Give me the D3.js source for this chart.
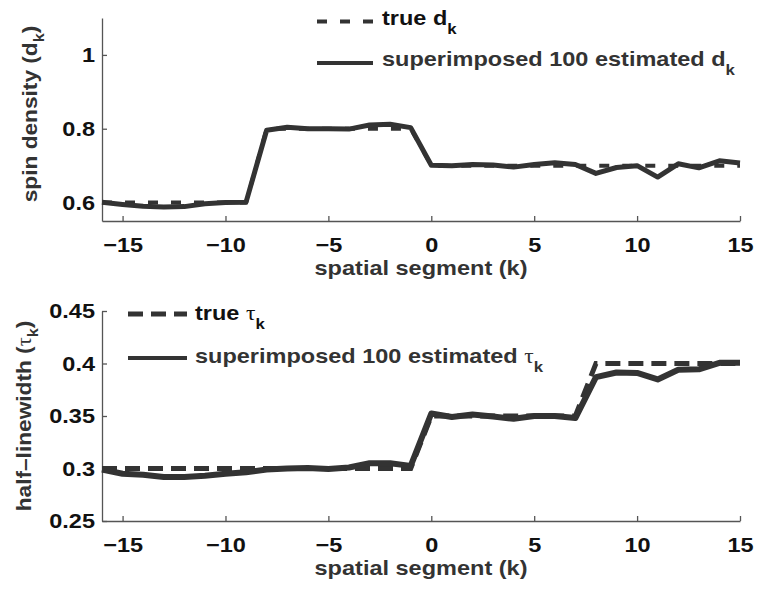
<!DOCTYPE html>
<html><head><meta charset="utf-8">
<script src="https://cdn.jsdelivr.net/npm/d3@7"></script>
<style>body{margin:0;background:#fff}</style></head>
<body><svg id="c" width="761" height="590"></svg>
<script>
// ---------- data ----------
const kValues = [-16,-15,-14,-13,-12,-11,-10,-9,-8,-7,-6,-5,-4,-3,-2,-1,0,1,2,3,4,5,6,7,8,9,10,11,12,13,14,15];
const xTickValues = [-15,-10,-5,0,5,10,15];
const xTickLabels = ["\u221215","\u221210","\u22125","0","5","10","15"];

const dTrue = [0.6,0.6,0.6,0.6,0.6,0.6,0.6,0.6, 0.8,0.8,0.8,0.8,0.8,0.8,0.8,0.8,
               0.7,0.7,0.7,0.7,0.7,0.7,0.7,0.7,0.7,0.7,0.7,0.7,0.7,0.7,0.7,0.7];
const dEst  = [0.601,0.595,0.590,0.588,0.589,0.597,0.600,0.601,
               0.796,0.804,0.800,0.800,0.799,0.810,0.812,0.803,
               0.701,0.700,0.703,0.702,0.696,0.703,0.708,0.703,
               0.679,0.695,0.700,0.669,0.705,0.694,0.713,0.707];
const dTickValues = [0.6,0.8,1];
const dTickLabels = ["0.6","0.8","1"];

const tauTrue = [0.3,0.3,0.3,0.3,0.3,0.3,0.3,0.3,0.3,0.3,0.3,0.3,0.3,0.3,0.3,0.3,
                 0.35,0.35,0.35,0.35,0.35,0.35,0.35,0.35,
                 0.4,0.4,0.4,0.4,0.4,0.4,0.4,0.4];
const tauEst  = [0.299,0.295,0.294,0.292,0.292,0.293,0.295,0.2965,
                 0.299,0.300,0.3005,0.2995,0.301,0.305,0.305,0.3025,
                 0.3524,0.349,0.3514,0.3495,0.3473,0.350,0.350,0.348,
                 0.387,0.3914,0.391,0.3848,0.394,0.3945,0.4007,0.4007];
const tauTickValues = [0.25,0.3,0.35,0.4,0.45];
const tauTickLabels = ["0.25","0.3","0.35","0.4","0.45"];

// ---------- drawing ----------
const svg = d3.select("#c");
const FONT = "'Liberation Sans', Arial, Helvetica, sans-serif";
const SX = 1.12;
const x = d3.scaleLinear().domain([-16, 15]).range([102, 740]);

function addParts(t, parts, subSize) {
  parts.forEach(p => {
    const ts = t.append("tspan").text(p.t);
    if (p.sub) ts.attr("font-size", subSize).attr("dy", p.dy);
    if (p.back) ts.attr("dy", p.back);
    if (p.greek) ts.attr("font-family", "'Liberation Serif', 'DejaVu Serif', serif").attr("font-weight", "normal");
  });
}

function drawPanel(o) {
  const g = svg.append("g");
  const y = d3.scaleLinear().domain(o.yDomain).range([o.yBottom, o.yTop]);

  const xa = g.append("g").attr("transform", `translate(0,${o.yBottom})`)
    .call(d3.axisBottom(x).tickValues(xTickValues)
      .tickFormat((d, i) => xTickLabels[i]).tickSizeInner(-5).tickSizeOuter(0).tickPadding(16));
  const ya = g.append("g").attr("transform", `translate(102,0)`)
    .call(d3.axisLeft(y).tickValues(o.tickValues)
      .tickFormat((d, i) => o.tickLabels[i]).tickSizeInner(-5).tickSizeOuter(0).tickPadding(7));
  [xa, ya].forEach(a => {
    a.select(".domain").attr("stroke", "#555").attr("stroke-width", 1.3);
    a.selectAll(".tick line").attr("stroke", "#555").attr("stroke-width", 1.3);
    a.selectAll(".tick text").attr("font-family", FONT).attr("font-weight", "bold")
      .attr("font-size", 21).attr("fill", "#111");
  });
  xa.selectAll(".tick text").attr("transform", `scale(${SX},1)`);
  ya.selectAll(".tick text").attr("x", -7 / SX).attr("transform", `scale(${SX},1)`);

  const line = d3.line().x((d, i) => x(kValues[i])).y(d => y(d));
  g.append("path").datum(o.trueVals).attr("d", line).attr("fill", "none")
    .attr("stroke", "#333").attr("stroke-width", o.dashW).attr("stroke-dasharray", o.dash);
  g.append("path").datum(o.estVals).attr("d", line).attr("fill", "none")
    .attr("stroke", "#333").attr("stroke-width", o.estW).attr("stroke-linejoin", "round");

  // x label
  g.append("text").attr("transform", `translate(421,${o.xLabelY}) scale(${SX},1)`)
    .attr("text-anchor", "middle").attr("font-family", FONT).attr("font-weight", "bold")
    .attr("font-size", 21).attr("fill", "#333").text("spatial segment (k)");

  // y label
  const yl = g.append("text").attr("transform", `translate(${o.yLabelX},${o.yLabelY}) rotate(-90) scale(1.08,1)`)
    .attr("text-anchor", "middle").attr("font-family", FONT).attr("font-weight", "bold")
    .attr("font-size", 21).attr("fill", "#333");
  addParts(yl, o.yLabelParts, 15);

  // legend
  const L = o.legend;
  g.append("line").attr("x1", L.x1).attr("x2", L.x2).attr("y1", L.y1).attr("y2", L.y1)
    .attr("stroke", "#333").attr("stroke-width", o.dashW).attr("stroke-dasharray", o.dash);
  g.append("line").attr("x1", L.x1).attr("x2", L.x2).attr("y1", L.y2).attr("y2", L.y2)
    .attr("stroke", "#333").attr("stroke-width", 4);
  const t1 = g.append("text").attr("transform", `translate(${L.tx},${L.b1}) scale(${SX},1)`)
    .attr("font-family", FONT).attr("font-weight", "bold").attr("font-size", 21).attr("fill", "#111");
  addParts(t1, L.parts1, 15);
  const t2 = g.append("text").attr("transform", `translate(${L.tx},${L.b2}) scale(${SX},1)`)
    .attr("font-family", FONT).attr("font-weight", "bold").attr("font-size", 21).attr("fill", "#333");
  addParts(t2, L.parts2, 15);
}

drawPanel({
  yDomain: [0.55, 1.1], yTop: 18, yBottom: 221,
  tickValues: dTickValues, tickLabels: dTickLabels,
  trueVals: dTrue, estVals: dEst,
  dash: "10,13", dashW: 4, estW: 5,
  xLabelY: 275,
  yLabelX: 37, yLabelY: 114,
  yLabelParts: [{t: "spin density (d"}, {t: "k", sub: true, dy: 7}, {t: ")", back: -7}],
  legend: {x1: 317, x2: 373, y1: 21.5, y2: 63, tx: 382, b1: 25, b2: 66,
    parts1: [{t: "true d"}, {t: "k", sub: true, dy: 9}],
    parts2: [{t: "superimposed 100 estimated d"}, {t: "k", sub: true, dy: 9}]}
});

drawPanel({
  yDomain: [0.25, 0.45], yTop: 311, yBottom: 521,
  tickValues: tauTickValues, tickLabels: tauTickLabels,
  trueVals: tauTrue, estVals: tauEst,
  dash: "15,8", dashW: 5, estW: 6,
  xLabelY: 575,
  yLabelX: 31, yLabelY: 416,
  yLabelParts: [{t: "half\u2013linewidth ("}, {t: "\u03c4", greek: true}, {t: "k", sub: true, dy: 7}, {t: ")", back: -7}],
  legend: {x1: 128, x2: 187, y1: 314, y2: 358, tx: 195, b1: 320, b2: 363,
    parts1: [{t: "true "}, {t: "\u03c4", greek: true}, {t: "k", sub: true, dy: 9}],
    parts2: [{t: "superimposed 100 estimated "}, {t: "\u03c4", greek: true}, {t: "k", sub: true, dy: 9}]}
});
</script></body></html>
